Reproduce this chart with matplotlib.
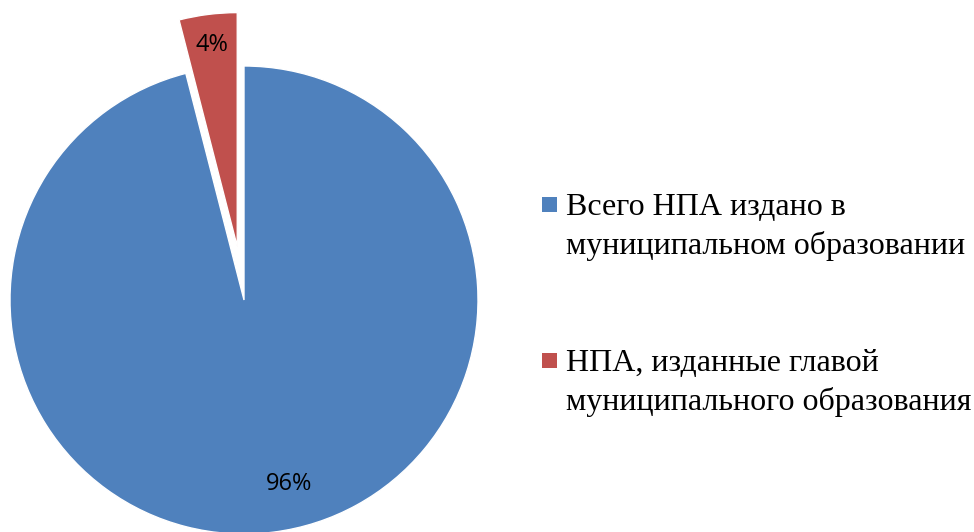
import matplotlib
matplotlib.use("Agg")
import matplotlib.pyplot as plt
from matplotlib.patches import Rectangle

categories = ["Всего НПА издано в\nмуниципальном образовании",
              "НПА, изданные главой\nмуниципального образования"]
values = [96, 4]
colors = ["#4F81BD", "#C0504D"]
explode_frac = [0, 0.23]

radius = 234
fig = plt.figure(figsize=(9.74, 5.32), dpi=100)
ax = fig.add_axes([0, 0, 1, 1])

wedges, texts, autotexts = ax.pie(
    values, colors=colors, explode=[e * radius for e in explode_frac],
    startangle=90, counterclock=False,
    center=(244, 232), radius=radius, autopct='%1.0f%%', pctdistance=0.87,
    wedgeprops=dict(edgecolor='white', linewidth=1),
    textprops=dict(fontsize=17, family='Open Sans', color='black'))
autotexts[0].set_position((289, 48))

ax.set_xlim(0, 974)
ax.set_ylim(0, 532)
ax.set_aspect('equal')
ax.axis('off')

first_baseline = [317, 161]
for label, color, y in zip(categories, colors, first_baseline):
    nlines = label.count("\n")
    ax.add_patch(Rectangle((542, y + 3), 15, 15, facecolor=color, edgecolor='none'))
    ax.text(566, y - 39 * nlines, label, fontsize=23, family='Liberation Serif',
            va='baseline', ha='left', linespacing=1.4, color='black')

fig.savefig("out.png", dpi=100)
